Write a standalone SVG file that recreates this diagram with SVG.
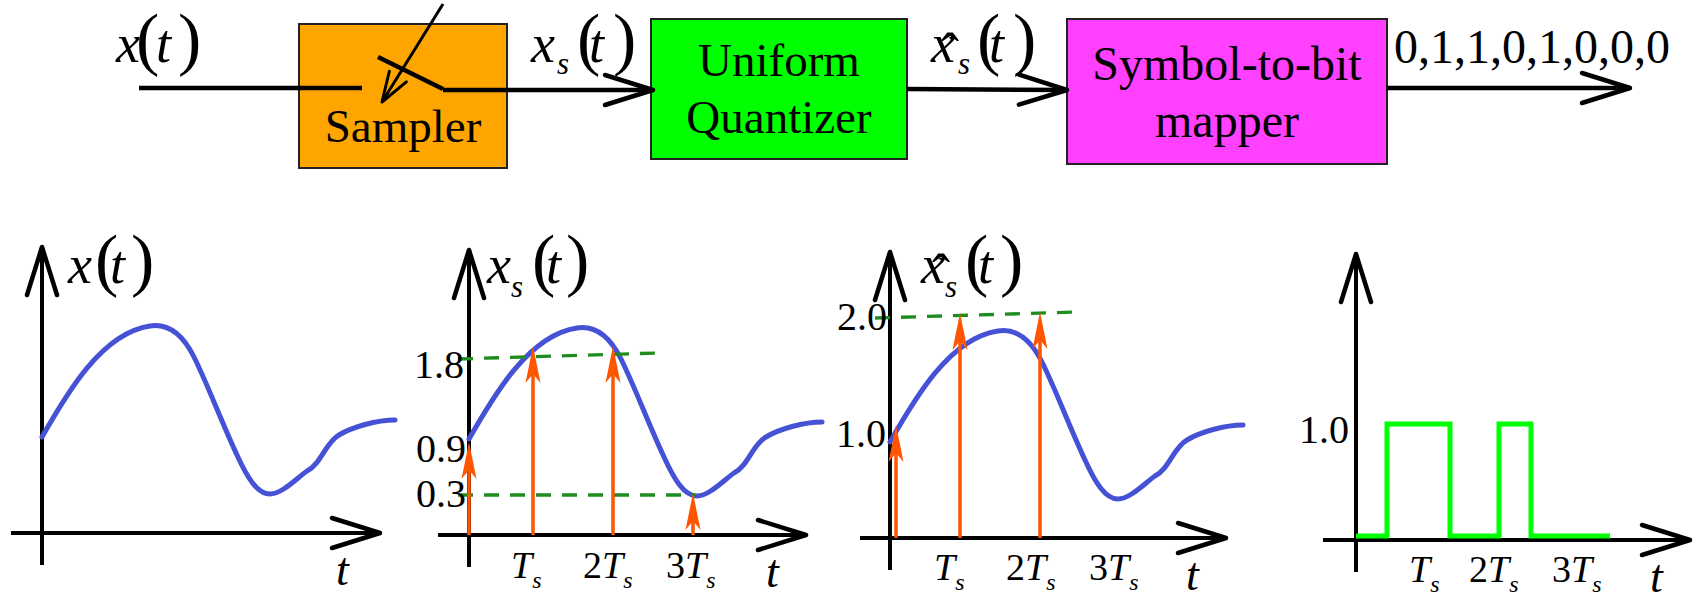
<svg xmlns="http://www.w3.org/2000/svg" xmlns:xlink="http://www.w3.org/1999/xlink" width="1694" height="595" viewBox="0 0 1694 595">
<style>
.tx{font-family:"Liberation Serif","Times New Roman",serif;fill:#000}
.it{font-style:italic}
.box{stroke:#222;stroke-width:2}
.lbl{font-size:47px;text-anchor:middle}
.ln{stroke:#000;stroke-width:4.5;fill:none}
.ax{stroke:#000;stroke-width:4;fill:none}
.sig{stroke:#4652D6;stroke-width:5;fill:none;stroke-linecap:round;stroke-linejoin:round}
.samp{stroke:#FF5500;stroke-width:3.5}
.dash{stroke:#1E8C1E;stroke-width:3.3;stroke-dasharray:15 11;fill:none}
.pulse{stroke:#00FF00;stroke-width:5;fill:none}
.mv{font-size:54px}
.pr{font-size:70px}
.sb{font-size:31px}
.num{font-size:40px}
.tk{font-size:38px}
.tks{font-size:24px}
.ta{font-size:46px}
</style>
<defs>
<marker id="arr" markerUnits="userSpaceOnUse" viewBox="-52 -19 56 38" markerWidth="56" markerHeight="38" refX="0" refY="0" orient="auto">
<path d="M-48,-15 L0,0 L-48,15" fill="none" stroke="#000" stroke-width="4.5" stroke-linecap="round" stroke-linejoin="round"/>
</marker>
<marker id="arrs" markerUnits="userSpaceOnUse" viewBox="-34 -13 38 26" markerWidth="38" markerHeight="26" refX="0" refY="0" orient="auto">
<path d="M-30,-10 L0,0 L-30,10" fill="none" stroke="#000" stroke-width="3" stroke-linecap="round" stroke-linejoin="round"/>
</marker>
<path id="oh" d="M0,0 L7.5,37 L0,28 L-7.5,37 Z" fill="#FF5500"/>
<path id="curve" class="sig" d="M0,-96 C25,-140 60,-200 108,-207 C128,-210 142,-196 152,-176 C165,-150 180,-110 195,-78 C205,-56 215,-39 228,-39 C240,-39 255,-55 265,-62 C280,-70 283,-90 297,-98 C310,-106 335,-113 353,-113"/>
</defs>

<!-- top block diagram nodes -->
<g id="sampler">
<rect class="box" x="299" y="24" width="208" height="144" fill="#FFA500"/>
<text class="tx lbl" x="403" y="142">Sampler</text>
</g>
<g id="quantizer">
<rect class="box" x="651" y="19" width="256" height="140" fill="#00FF00"/>
<text class="tx lbl" x="779" y="76">Uniform</text>
<text class="tx lbl" x="779" y="133">Quantizer</text>
</g>
<g id="mapper">
<rect class="box" x="1067" y="19" width="320" height="145" fill="#FF40FF"/>
<text class="tx lbl" x="1227" y="80" style="font-size:48px">Symbol-to-bit</text>
<text class="tx lbl" x="1227" y="137" style="font-size:48px">mapper</text>
</g>

<g id="connectors">
<line class="ln" x1="139" y1="88" x2="362" y2="88"/>
<line class="ln" x1="378" y1="57" x2="443" y2="89"/>
<line x1="443" y1="4" x2="382" y2="102" stroke="#000" stroke-width="3" marker-end="url(#arrs)"/>
<polyline class="ln" points="443,90 653,90" marker-end="url(#arr)"/>
<line class="ln" x1="907" y1="89" x2="1067" y2="90" marker-end="url(#arr)"/>
<line class="ln" x1="1387" y1="88" x2="1630" y2="88" marker-end="url(#arr)"/>
</g>

<g id="top-labels">
<text class="tx" y="62"><tspan class="it mv" x="116">x</tspan><tspan class="pr" x="136">(</tspan><tspan class="it mv" x="156">t</tspan><tspan class="pr" x="178">)</tspan></text>
<text class="tx" y="62"><tspan class="it mv" x="531">x</tspan><tspan class="it sb" x="557" y="74">s</tspan><tspan class="pr" x="577" y="62">(</tspan><tspan class="it mv" x="589">t</tspan><tspan class="pr" x="613">)</tspan></text>
<text class="tx" y="62"><tspan class="mv" x="941" y="71">ˆ</tspan><tspan class="it mv" x="931" y="62">x</tspan><tspan class="it sb" x="958" y="74">s</tspan><tspan class="pr" x="977" y="62">(</tspan><tspan class="it mv" x="989">t</tspan><tspan class="pr" x="1013">)</tspan></text>
<text class="tx" x="1394" y="63" style="font-size:48px" textLength="276" lengthAdjust="spacing">0,1,1,0,1,0,0,0</text>
</g>

<!-- chart 1: x(t) -->
<g id="chart-x">
<line class="ax" x1="42" y1="565" x2="42" y2="247" marker-end="url(#arr)"/>
<line class="ax" x1="11" y1="533" x2="380" y2="533" marker-end="url(#arr)"/>
<use xlink:href="#curve" transform="translate(42,533)"/>
<text class="tx" y="283"><tspan class="it mv" x="68">x</tspan><tspan class="pr" x="95">(</tspan><tspan class="it mv" x="110">t</tspan><tspan class="pr" x="131">)</tspan></text>
<text class="tx it ta" x="336" y="585">t</text>
</g>

<!-- chart 2: sampled -->
<g id="chart-xs">
<line class="ax" x1="469" y1="567" x2="469" y2="250" marker-end="url(#arr)"/>
<line class="ax" x1="438" y1="535" x2="806" y2="535" marker-end="url(#arr)"/>
<use xlink:href="#curve" transform="translate(469,535)"/>
<line class="dash" x1="458" y1="359" x2="657" y2="353"/>
<line class="dash" x1="458" y1="495" x2="695" y2="495"/>
<line class="samp" x1="469" y1="535" x2="469" y2="466"/><use xlink:href="#oh" x="469" y="442"/>
<line class="samp" x1="533" y1="535" x2="533" y2="370"/><use xlink:href="#oh" x="533" y="346"/>
<line class="samp" x1="613" y1="535" x2="613" y2="370"/><use xlink:href="#oh" x="613" y="346"/>
<line class="samp" x1="693" y1="535" x2="693" y2="517"/><use xlink:href="#oh" x="693" y="493"/>
<text class="tx num" x="414" y="378">1.8</text>
<text class="tx num" x="416" y="462">0.9</text>
<text class="tx num" x="416" y="507">0.3</text>
<text class="tx" y="283"><tspan class="it mv" x="487">x</tspan><tspan class="it sb" x="511" y="297">s</tspan><tspan class="pr" x="532" y="283">(</tspan><tspan class="it mv" x="546">t</tspan><tspan class="pr" x="566">)</tspan></text>
<text class="tx tk" x="511" y="578"><tspan class="it">T</tspan><tspan class="it tks" dy="10">s</tspan></text>
<text class="tx tk" x="583" y="578">2<tspan class="it">T</tspan><tspan class="it tks" dy="10">s</tspan></text>
<text class="tx tk" x="666" y="578">3<tspan class="it">T</tspan><tspan class="it tks" dy="10">s</tspan></text>
<text class="tx it ta" x="766" y="587">t</text>
</g>

<!-- chart 3: quantized -->
<g id="chart-xq">
<line class="ax" x1="890" y1="570" x2="890" y2="252" marker-end="url(#arr)"/>
<line class="ax" x1="860" y1="538" x2="1226" y2="538" marker-end="url(#arr)"/>
<use xlink:href="#curve" transform="translate(890,538)"/>
<line class="dash" x1="875" y1="318" x2="1078" y2="312"/>
<line class="samp" x1="896" y1="538" x2="896" y2="449"/><use xlink:href="#oh" x="896" y="425"/>
<line class="samp" x1="960" y1="538" x2="960" y2="337"/><use xlink:href="#oh" x="960" y="313"/>
<line class="samp" x1="1040" y1="538" x2="1040" y2="336"/><use xlink:href="#oh" x="1040" y="312"/>
<text class="tx num" x="837" y="330">2.0</text>
<text class="tx num" x="836" y="447">1.0</text>
<text class="tx" y="283"><tspan class="mv" x="932" y="292">ˆ</tspan><tspan class="it mv" x="921" y="283">x</tspan><tspan class="it sb" x="945" y="297">s</tspan><tspan class="pr" x="965" y="283">(</tspan><tspan class="it mv" x="978">t</tspan><tspan class="pr" x="1000">)</tspan></text>
<text class="tx tk" x="934" y="580"><tspan class="it">T</tspan><tspan class="it tks" dy="10">s</tspan></text>
<text class="tx tk" x="1006" y="580">2<tspan class="it">T</tspan><tspan class="it tks" dy="10">s</tspan></text>
<text class="tx tk" x="1089" y="580">3<tspan class="it">T</tspan><tspan class="it tks" dy="10">s</tspan></text>
<text class="tx it ta" x="1186" y="590">t</text>
</g>

<!-- chart 4: bits -->
<g id="chart-bits">
<line class="ax" x1="1356" y1="572" x2="1356" y2="254" marker-end="url(#arr)"/>
<line class="ax" x1="1323" y1="540" x2="1690" y2="540" marker-end="url(#arr)"/>
<path class="pulse" d="M1356,536 H1387 V424 H1450 V536 H1499 V424 H1531 V536 H1610"/>
<text class="tx num" x="1299" y="443">1.0</text>
<text class="tx tk" x="1409" y="582"><tspan class="it">T</tspan><tspan class="it tks" dy="10">s</tspan></text>
<text class="tx tk" x="1469" y="582">2<tspan class="it">T</tspan><tspan class="it tks" dy="10">s</tspan></text>
<text class="tx tk" x="1552" y="582">3<tspan class="it">T</tspan><tspan class="it tks" dy="10">s</tspan></text>
<text class="tx it ta" x="1650" y="592">t</text>
</g>
</svg>
